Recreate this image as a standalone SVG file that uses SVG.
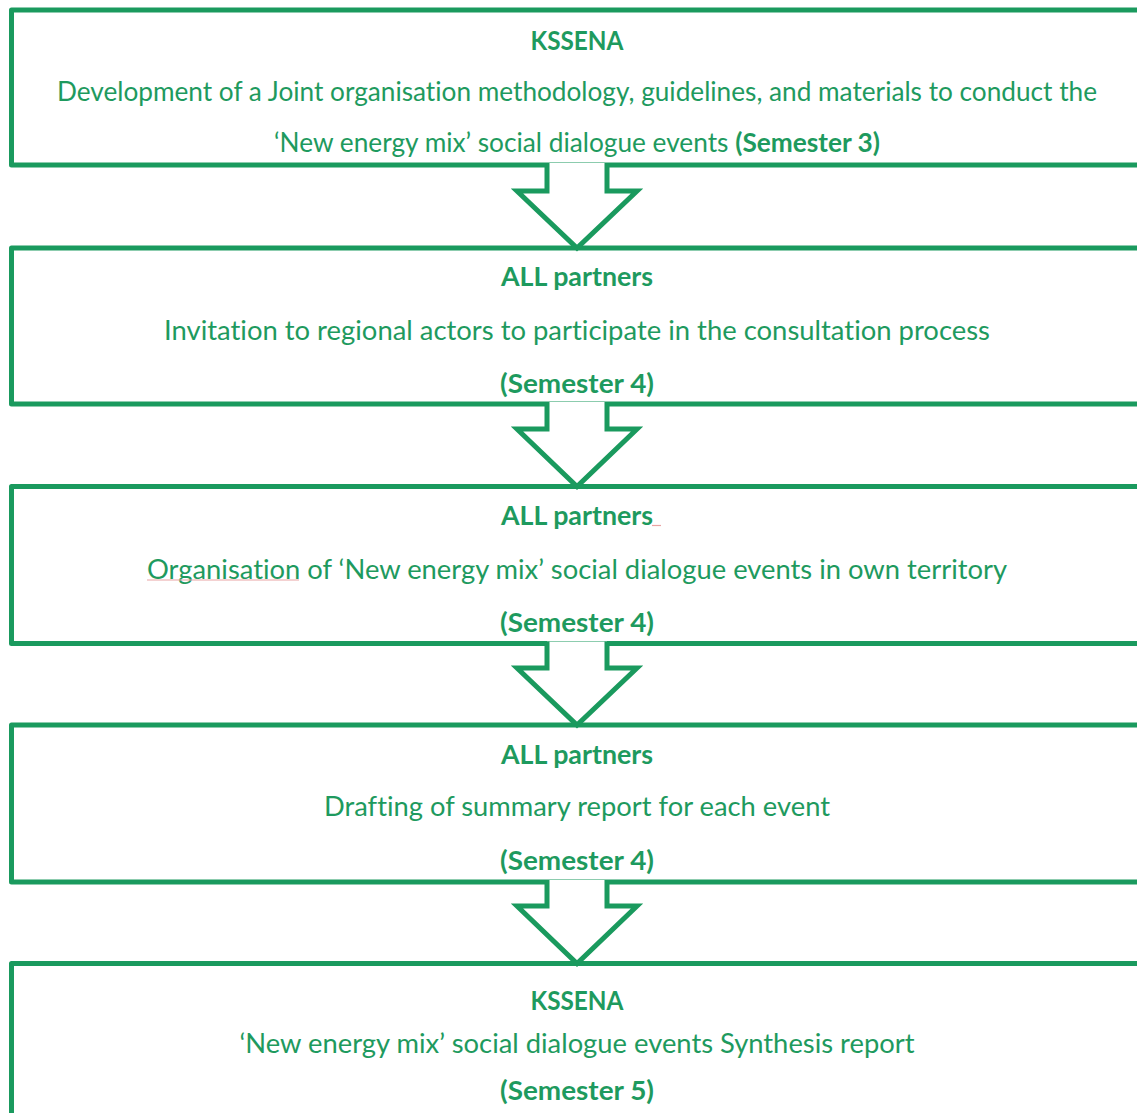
<svg xmlns="http://www.w3.org/2000/svg" width="1137" height="1113" viewBox="0 0 1137 1113">
  <style>
    .box { fill: #ffffff; stroke: #1a9a5e; stroke-width: 5; stroke-linejoin: round; }
    .arrow { fill: #ffffff; stroke: #1a9a5e; stroke-width: 5; stroke-linejoin: miter; }
    .t { font-family: Lato, "Liberation Sans", sans-serif; font-size: 26px; fill: #1e9a5e; text-anchor: middle; font-variant-ligatures: none; }
    .b { font-weight: bold; }
    .spell { stroke: #eaa3a3; stroke-width: 1.2; fill: none; }
  </style>
  <rect width="1137" height="1113" fill="#ffffff"/>

  <g id="nodes">
    <g id="step1">
      <rect class="box" x="11.5" y="10" width="1150" height="155"/>
      <text class="t b" x="577" y="50" textLength="93" lengthAdjust="spacingAndGlyphs">KSSENA</text>
      <text class="t" x="577" y="101" textLength="1040" lengthAdjust="spacingAndGlyphs">Development of a Joint organisation methodology, guidelines, and materials to conduct the</text>
      <text class="t" x="577" y="152" textLength="606" lengthAdjust="spacingAndGlyphs">‘New energy mix’ social dialogue events <tspan class="b">(Semester 3)</tspan></text>
    </g>
    <g id="step2">
      <rect class="box" x="11.5" y="248" width="1150" height="156"/>
      <text class="t b" x="577" y="286" textLength="152" lengthAdjust="spacingAndGlyphs">ALL partners</text>
      <text class="t" x="577" y="340" textLength="826" lengthAdjust="spacingAndGlyphs">Invitation to regional actors to participate in the consultation process</text>
      <text class="t b" x="577" y="393" textLength="154" lengthAdjust="spacingAndGlyphs">(Semester 4)</text>
    </g>
    <g id="step3">
      <rect class="box" x="11.5" y="486.5" width="1150" height="157"/>
      <text class="t b" x="577" y="525" textLength="152" lengthAdjust="spacingAndGlyphs">ALL partners</text>
      <line class="spell" x1="652" y1="525.5" x2="661" y2="525.5"/>
      <text class="t" x="577" y="579" textLength="860" lengthAdjust="spacingAndGlyphs">Organisation of ‘New energy mix’ social dialogue events in own territory</text>
      <line class="spell" x1="147" y1="580" x2="299" y2="580"/>
      <text class="t b" x="577" y="632" textLength="154" lengthAdjust="spacingAndGlyphs">(Semester 4)</text>
    </g>
    <g id="step4">
      <rect class="box" x="11.5" y="725" width="1150" height="157"/>
      <text class="t b" x="577" y="764" textLength="152" lengthAdjust="spacingAndGlyphs">ALL partners</text>
      <text class="t" x="577" y="816" textLength="506" lengthAdjust="spacingAndGlyphs">Drafting of summary report for each event</text>
      <text class="t b" x="577" y="870" textLength="154" lengthAdjust="spacingAndGlyphs">(Semester 4)</text>
    </g>
    <g id="step5">
      <rect class="box" x="11.5" y="963.5" width="1150" height="200"/>
      <text class="t b" x="577" y="1010" textLength="93" lengthAdjust="spacingAndGlyphs">KSSENA</text>
      <text class="t" x="577" y="1053" textLength="675" lengthAdjust="spacingAndGlyphs">‘New energy mix’ social dialogue events Synthesis report</text>
      <text class="t b" x="577" y="1100" textLength="154" lengthAdjust="spacingAndGlyphs">(Semester 5)</text>
    </g>
  </g>

  <g id="connectors">
    <polyline class="arrow" points="547,163 547,191 517,191 577,248 637,191 607,191 607,163"/>
    <polyline class="arrow" points="547,402 547,429 517,429 577,486.5 637,429 607,429 607,402"/>
    <polyline class="arrow" points="547,641.5 547,668 517,668 577,725 637,668 607,668 607,641.5"/>
    <polyline class="arrow" points="547,880 547,906 517,906 577,963.5 637,906 607,906 607,880"/>
  </g>
</svg>
